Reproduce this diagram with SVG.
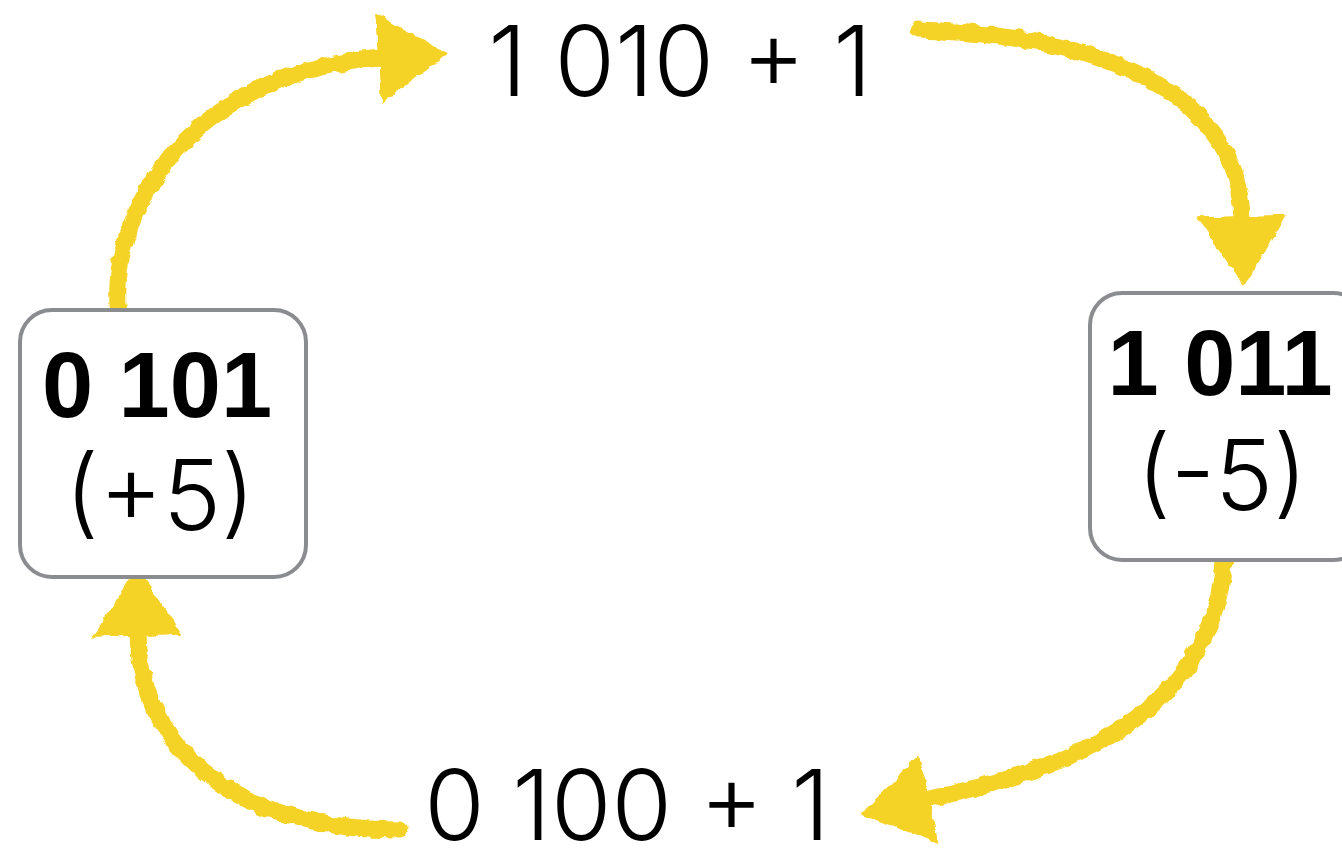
<svg xmlns="http://www.w3.org/2000/svg" width="1342" height="865" viewBox="0 0 1342 865">
<defs>
<style>
.box{fill:#fff;stroke:#8a8c8f;stroke-width:4}
.bold{font-family:"Liberation Sans",Arial,sans-serif;font-weight:bold;font-size:92px;fill:#000;text-anchor:middle}
.light{font-family:Inter,Roboto,"Liberation Sans",sans-serif;font-weight:300;font-size:98px;fill:#000;text-anchor:middle}
.arrow{fill:none;stroke:#f5d327;stroke-width:17;stroke-linecap:round;marker-end:url(#head)}
</style>
<filter id="chalk" filterUnits="userSpaceOnUse" x="0" y="0" width="1342" height="865">
<feTurbulence type="fractalNoise" baseFrequency="0.09" numOctaves="2" seed="3" result="n"/>
<feDisplacementMap in="SourceGraphic" in2="n" scale="7" xChannelSelector="R" yChannelSelector="G"/>
</filter>
<marker id="head" viewBox="0 0 70 90" refX="4" refY="45" markerWidth="70" markerHeight="90" markerUnits="userSpaceOnUse" orient="auto">
<path d="M0,0 L70,45 L0,90 Z" fill="#f5d327"/>
</marker>
</defs>
<g id="connectors" filter="url(#chalk)">
<path class="arrow" d="M118,305 C112,200 200,70 382,58"/>
<path class="arrow" d="M918,30 C1080,35 1238,80 1242,220"/>
<path class="arrow" d="M1225,545 C1220,720 1060,770 925,800"/>
<path class="arrow" d="M400,830 C250,830 140,760 138,632"/>
</g>
<g id="node-pos5">
<rect class="box" x="20" y="310" width="286" height="267" rx="32"/>
<text class="bold" x="157" y="417">0 101</text>
<text class="light" x="160" y="530">(+5)</text>
</g>
<g id="node-neg5">
<rect class="box" x="1090" y="293" width="275" height="267" rx="32"/>
<text class="bold" x="1220" y="395">1 011</text>
<text class="light" x="1222" y="510">(-5)</text>
</g>
<g id="label-top">
<text class="light" x="680" y="96">1 010 + 1</text>
</g>
<g id="label-bottom">
<text class="light" x="627" y="840">0 100 + 1</text>
</g>
</svg>
